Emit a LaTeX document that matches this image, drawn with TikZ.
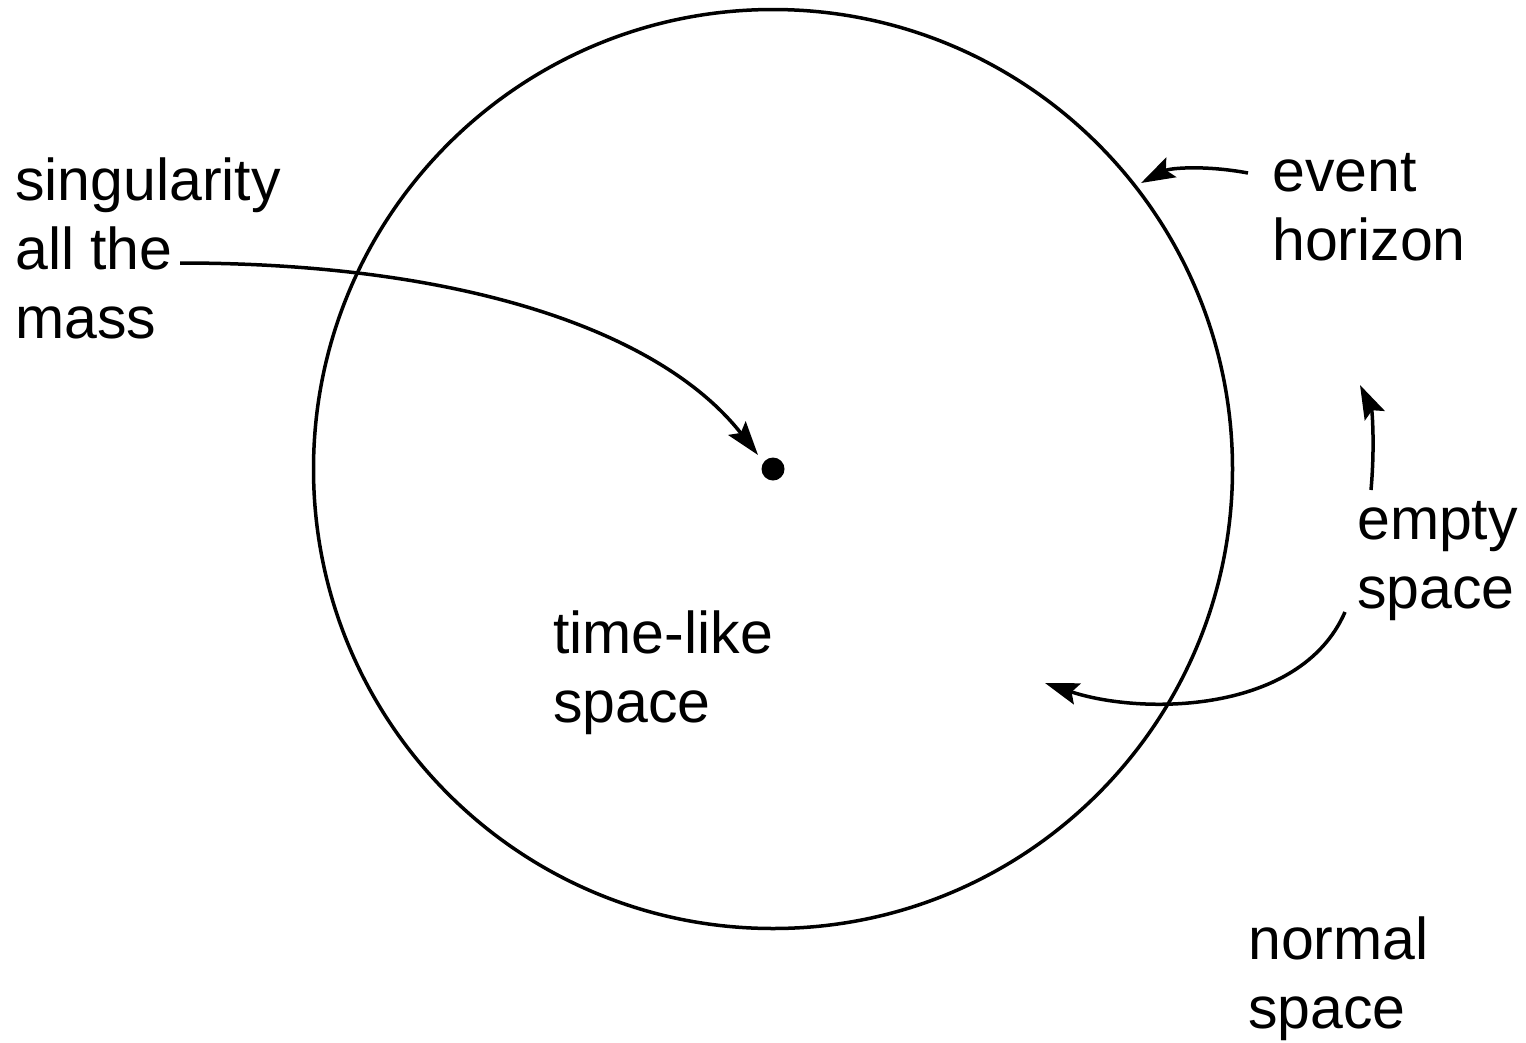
\documentclass[tikz,border=0pt]{standalone}
\usepackage{fontspec}
\setmainfont{Liberation Sans}
\usetikzlibrary{arrows.meta}
\begin{document}
\begin{tikzpicture}[x=1pt,y=-1pt,
  lbl/.style={anchor=base west,align=left,inner sep=0pt,font=\fontsize{59}{69}\selectfont},
  arr/.style={line width=3.5pt,-{Stealth[length=34pt,width=22pt,inset=6pt]}}]
\useasboundingbox (0,0) rectangle (1526,1042);
\draw[line width=3.5pt] (773,469) circle (459.5);
\node[fill,circle,inner sep=0pt,minimum size=23pt] (dot) at (773,469) {};
\node[lbl] (sing) at (15,338) {singularity\\all the\\mass};
\node[lbl] (ev) at (1272,260) {event\\horizon};
\node[lbl] (emp) at (1357,608) {empty\\space};
\node[lbl] (tl) at (553,722) {time-like\\space};
\node[lbl] (norm) at (1248,1028) {normal\\space};
\coordinate (s1) at (180,263);
\coordinate (e1) at (1248,173);
\coordinate (m1) at (1371,490);
\coordinate (m2) at (1345,612);
\coordinate (tin) at (1045,683);
\coordinate (eh) at (1141,183);
\coordinate (up) at (1360,385);
\draw[arr] (s1) .. controls (460,263) and (660,330) .. (758,455);
\draw[arr] (e1) .. controls (1205,165) and (1170,168) .. (eh);
\draw[arr] (m1) .. controls (1375,445) and (1372,410) .. (up);
\draw[arr] (m2) .. controls (1300,715) and (1140,715) .. (tin);
\end{tikzpicture}
\end{document}
